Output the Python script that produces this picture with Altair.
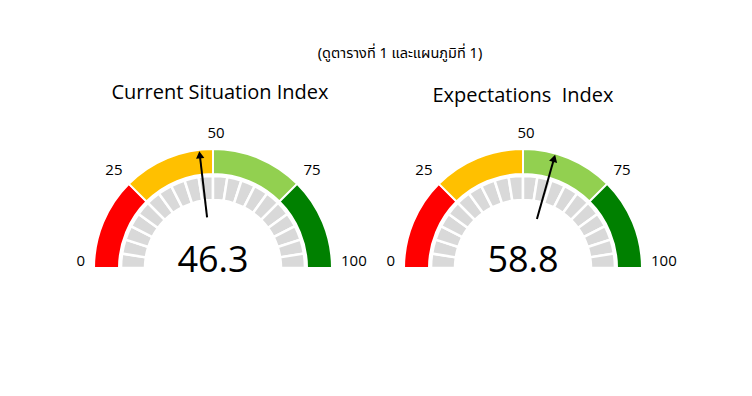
import math
import altair as alt
import pandas as pd

# ---- data -------------------------------------------------------------
band_names = ["low", "mid-low", "mid-high", "high"]
band_start = [0, 25, 50, 75]
band_end = [25, 50, 75, 100]
band_colors = ["#ff0000", "#ffc000", "#92d050", "#008000"]
tick_labels = [0, 25, 50, 75, 100]
gauge_titles = ["Current Situation Index", "Expectations\u00a0 Index"]
gauge_values = [46.3, 58.8]
caption = "(ดูตารางที่ 1 และแผนภูมิที่ 1)"
n_segments = 20

# ---- layout -----------------------------------------------------------
W, H = 736, 380
centers = [(205, 260), (515, 260)]
title_pos = [(212, 85), (515, 88)]
R_OUT, R_OUT_IN = 119, 94
R_SEG, R_SEG_IN = 92, 68
R_LABEL = 128
R_NEEDLE_IN, R_NEEDLE_OUT = 51, 112

theta_scale = alt.Scale(domain=[0, 100], range=[-math.pi / 2, math.pi / 2])
color_scale = alt.Scale(domain=band_names, range=band_colors)

bands_df = pd.DataFrame({"band": band_names, "start": band_start, "end": band_end})
seg_df = pd.DataFrame({
    "start": [i * 100 / n_segments for i in range(n_segments)],
    "end": [(i + 1) * 100 / n_segments for i in range(n_segments)],
})
ticks_df = pd.DataFrame({"tick": tick_labels, "label": [str(t) for t in tick_labels]})

FONT = "Open Sans"


def gauge(value, cx, cy, title, tpos):
    layers = []
    layers.append(
        alt.Chart(bands_df).mark_arc(stroke="white", strokeWidth=2).encode(
            theta=alt.Theta("start:Q", scale=theta_scale, stack=None),
            theta2="end:Q",
            radius=alt.value(R_OUT), radius2=alt.value(R_OUT_IN),
            x=alt.value(cx), y=alt.value(cy),
            color=alt.Color("band:N", scale=color_scale, legend=None),
        )
    )
    layers.append(
        alt.Chart(seg_df).mark_arc(stroke="white", strokeWidth=2.5, color="#d9d9d9").encode(
            theta=alt.Theta("start:Q", scale=theta_scale, stack=None),
            theta2="end:Q",
            radius=alt.value(R_SEG), radius2=alt.value(R_SEG_IN),
            x=alt.value(cx), y=alt.value(cy),
        )
    )
    for cond, align, dx in [("datum.tick < 50", "right", 0), ("datum.tick == 50", "center", 3),
                            ("datum.tick > 50", "left", 0)]:
        layers.append(
            alt.Chart(ticks_df).transform_filter(cond).mark_text(
                font=FONT, fontSize=15, color="black", align=align,
                baseline="alphabetic", dy=-2, dx=dx,
            ).encode(
                theta=alt.Theta("tick:Q", scale=theta_scale, stack=None),
                radius=alt.value(R_LABEL),
                x=alt.value(cx), y=alt.value(cy),
                text="label:N",
            )
        )
    vdf = pd.DataFrame({"v": [value]})
    needle_base = alt.Chart(vdf).transform_calculate(
        a="(datum.v/100*180-90)*PI/180",
        deg="(datum.v/100*180-90+360)%360",
        x1=f"{cx} + {R_NEEDLE_IN}*sin(datum.a)",
        y1=f"{cy} - {R_NEEDLE_IN}*cos(datum.a)",
        x2=f"{cx} + {R_NEEDLE_OUT}*sin(datum.a)",
        y2=f"{cy} - {R_NEEDLE_OUT}*cos(datum.a)",
        xt=f"{cx} + {R_NEEDLE_OUT + 2}*sin(datum.a)",
        yt=f"{cy} - {R_NEEDLE_OUT + 2}*cos(datum.a)",
        lab="format(datum.v, '.1f')",
    )
    layers.append(
        needle_base.mark_rule(color="black", strokeWidth=2).encode(
            x=alt.X("x1:Q", scale=None, axis=None),
            y=alt.Y("y1:Q", scale=None, axis=None),
            x2="x2:Q", y2="y2:Q",
        )
    )
    layers.append(
        needle_base.mark_point(shape="triangle-up", filled=True, color="black", size=70, opacity=1).encode(
            x=alt.X("xt:Q", scale=None, axis=None),
            y=alt.Y("yt:Q", scale=None, axis=None),
            angle=alt.Angle("deg:Q", scale=None),
        )
    )
    layers.append(
        needle_base.mark_text(font=FONT, fontSize=36, fontWeight=500, color="black",
                              baseline="alphabetic").encode(
            x=alt.value(cx), y=alt.value(cy + 4), text="lab:N",
        )
    )
    layers.append(
        alt.Chart(pd.DataFrame({"t": [title]})).mark_text(font=FONT, fontSize=20, color="black").encode(
            x=alt.value(tpos[0]), y=alt.value(tpos[1]), text="t:N",
        )
    )
    return layers


all_layers = []
for val, (cx, cy), ttl, tp in zip(gauge_values, centers, gauge_titles, title_pos):
    all_layers += gauge(val, cx, cy, ttl, tp)

all_layers.append(
    alt.Chart(pd.DataFrame({"t": [caption]})).mark_text(
        font="Tahoma, 'Noto Sans Thai', 'Noto Sans', sans-serif", fontSize=14.5, color="black"
    ).encode(x=alt.value(392), y=alt.value(46), text="t:N")
)

chart = alt.layer(*all_layers).resolve_scale(x="independent", y="independent").properties(
    width=W, height=H, padding=0, autosize=alt.AutoSizeParams(type="none")
).configure_view(stroke=None)

chart.save("out.html", embed_options={"renderer": "svg", "actions": False})
